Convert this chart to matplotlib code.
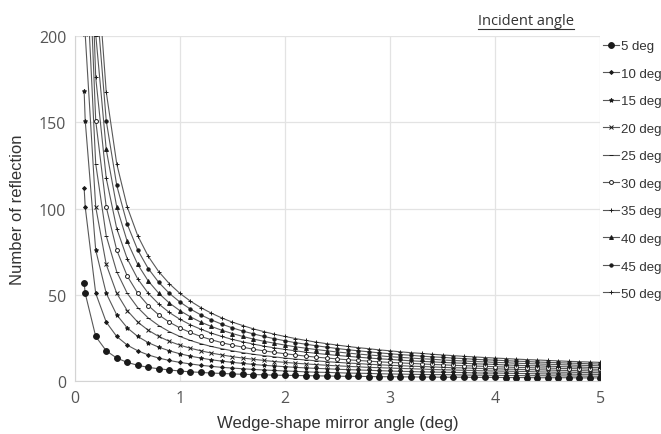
import matplotlib
matplotlib.use("Agg")
import matplotlib.pyplot as plt
from matplotlib.lines import Line2D

# wedge-shape mirror angle (deg)
wedge = [0.09, 0.1, 0.2, 0.3, 0.4, 0.5, 0.6, 0.7, 0.8, 0.9,
         1.0, 1.1, 1.2, 1.3, 1.4, 1.5, 1.6, 1.7, 1.8, 1.9,
         2.0, 2.1, 2.2, 2.3, 2.4, 2.5, 2.6, 2.7, 2.8, 2.9,
         3.0, 3.1, 3.2, 3.3, 3.4, 3.5, 3.6, 3.7, 3.8, 3.9,
         4.0, 4.1, 4.2, 4.3, 4.4, 4.5, 4.6, 4.7, 4.8, 4.9, 5.0]

# number of reflection for each incident angle
n_5 = [57, 51, 26, 17.7, 13.5, 11, 9.3, 8.1, 7.3, 6.6,
       6, 5.5, 5.2, 4.8, 4.6, 4.3, 4.1, 3.9, 3.8, 3.6,
       3.5, 3.4, 3.3, 3.2, 3.1, 3.0, 2.9, 2.9, 2.8, 2.7,
       2.7, 2.6, 2.6, 2.5, 2.5, 2.4, 2.4, 2.4, 2.3, 2.3,
       2.3, 2.2, 2.2, 2.2, 2.1, 2.1, 2.1, 2.1, 2.0, 2.0, 2.0]
n_10 = [112, 101, 51, 34.3, 26, 21, 17.7, 15.3, 13.5, 12.1,
        11, 10.1, 9.3, 8.7, 8.1, 7.7, 7.3, 6.9, 6.6, 6.3,
        6, 5.8, 5.5, 5.3, 5.2, 5, 4.8, 4.7, 4.6, 4.4,
        4.3, 4.2, 4.1, 4.0, 3.9, 3.9, 3.8, 3.7, 3.6, 3.6,
        3.5, 3.4, 3.4, 3.3, 3.3, 3.2, 3.2, 3.1, 3.1, 3.0, 3.0]
n_15 = [168, 151, 76, 51, 38.5, 31, 26, 22.4, 19.8, 17.7,
        16, 14.6, 13.5, 12.5, 11.7, 11, 10.4, 9.8, 9.3, 8.9,
        8.5, 8.1, 7.8, 7.5, 7.3, 7, 6.8, 6.6, 6.4, 6.2,
        6, 5.8, 5.7, 5.5, 5.4, 5.3, 5.2, 5.1, 4.9, 4.8,
        4.8, 4.7, 4.6, 4.5, 4.4, 4.3, 4.3, 4.2, 4.1, 4.1, 4.0]
n_20 = [223, 201, 101, 67.7, 51, 41, 34.3, 29.6, 26, 23.2,
        21, 19.2, 17.7, 16.4, 15.3, 14.3, 13.5, 12.8, 12.1, 11.5,
        11, 10.5, 10.1, 9.7, 9.3, 9, 8.7, 8.4, 8.1, 7.9,
        7.7, 7.5, 7.3, 7.1, 6.9, 6.7, 6.6, 6.4, 6.3, 6.1,
        6, 5.9, 5.8, 5.7, 5.5, 5.4, 5.3, 5.3, 5.2, 5.1, 5]
n_25 = [279, 251, 126, 84.3, 63.5, 51, 42.7, 36.7, 32.3, 28.8,
        26, 23.7, 21.8, 20.2, 18.9, 17.7, 16.6, 15.7, 14.9, 14.2,
        13.5, 12.9, 12.4, 11.9, 11.4, 11, 10.6, 10.3, 9.9, 9.6,
        9.3, 9.1, 8.8, 8.6, 8.4, 8.1, 7.9, 7.8, 7.6, 7.4,
        7.3, 7.1, 7.0, 6.8, 6.7, 6.6, 6.4, 6.3, 6.2, 6.1, 6]
n_30 = [334, 301, 151, 101, 76, 61, 51, 43.9, 38.5, 34.3,
        31, 28.3, 26, 24.1, 22.4, 21, 19.8, 18.6, 17.7, 16.8,
        16, 15.3, 14.6, 14.0, 13.5, 13, 12.5, 12.1, 11.7, 11.3,
        11, 10.7, 10.4, 10.1, 9.8, 9.6, 9.3, 9.1, 8.9, 8.7,
        8.5, 8.3, 8.1, 8.0, 7.8, 7.7, 7.5, 7.4, 7.3, 7.1, 7]
n_35 = [390, 351, 176, 117.7, 88.5, 71, 59.3, 51, 44.8, 39.9,
        36, 32.8, 30.2, 27.9, 26, 24.3, 22.9, 21.6, 20.4, 19.4,
        18.5, 17.7, 16.9, 16.2, 15.6, 15, 14.5, 14.0, 13.5, 13.1,
        12.7, 12.3, 11.9, 11.6, 11.3, 11, 10.7, 10.5, 10.2, 10.0,
        9.8, 9.5, 9.3, 9.1, 9.0, 8.8, 8.6, 8.4, 8.3, 8.1, 8]
n_40 = [445, 401, 201, 134.3, 101, 81, 67.7, 58.1, 51, 45.4,
        41, 37.4, 34.3, 31.8, 29.6, 27.7, 26, 24.5, 23.2, 22.1,
        21, 20.0, 19.2, 18.4, 17.7, 17, 16.4, 15.8, 15.3, 14.8,
        14.3, 13.9, 13.5, 13.1, 12.8, 12.4, 12.1, 11.8, 11.5, 11.3,
        11, 10.8, 10.5, 10.3, 10.1, 9.9, 9.7, 9.5, 9.3, 9.2, 9]
n_45 = [501, 451, 226, 151, 113.5, 91, 76, 65.3, 57.3, 51,
        46, 41.9, 38.5, 35.6, 33.1, 31, 29.1, 27.5, 26, 24.7,
        23.5, 22.4, 21.5, 20.6, 19.8, 19, 18.3, 17.7, 17.1, 16.5,
        16, 15.5, 15.1, 14.6, 14.2, 13.9, 13.5, 13.2, 12.8, 12.5,
        12.3, 12.0, 11.7, 11.5, 11.2, 11, 10.8, 10.6, 10.4, 10.2, 10]
n_50 = [557, 501, 251, 167.7, 126, 101, 84.3, 72.4, 63.5, 56.6,
        51, 46.5, 42.7, 39.5, 36.7, 34.3, 32.3, 30.4, 28.8, 27.3,
        26, 24.8, 23.7, 22.7, 21.8, 21, 20.2, 19.5, 18.9, 18.2,
        17.7, 17.1, 16.6, 16.2, 15.7, 15.3, 14.9, 14.5, 14.2, 13.8,
        13.5, 13.2, 12.9, 12.6, 12.4, 12.1, 11.9, 11.6, 11.4, 11.2, 11]

series = [n_5, n_10, n_15, n_20, n_25, n_30, n_35, n_40, n_45, n_50]
labels = ['5 deg', '10 deg', '15 deg', '20 deg', '25 deg',
          '30 deg', '35 deg', '40 deg', '45 deg', '50 deg']

# marker style per series (marker, size, filled)
styles = [('o', 4.2, True), ('D', 2.0, True), ('*', 3.2, True), ('x', 2.6, False),
          ('_', 3.5, False), ('o', 2.8, False), ('+', 3.5, False), ('^', 2.8, True),
          ('o', 2.4, True), ('+', 3.0, False)]

fig = plt.figure(figsize=(6.61, 4.35), dpi=100)
ax = fig.add_axes([0.113, 0.121, 0.795, 0.794])

for vals, lab, (mk, ms, filled) in zip(series, labels, styles):
    ax.plot(wedge, vals, color='#585858', lw=0.8, marker=mk, ms=ms,
            mec='#1a1a1a', mfc='#1a1a1a' if filled else 'white', mew=0.7,
            label=lab)

ax.set_xlim(0, 5)
ax.set_ylim(0, 200)
ax.set_xticks([0, 1, 2, 3, 4, 5])
ax.set_yticks([0, 50, 100, 150, 200])
ax.grid(True, color='#e3e3e3', lw=0.9)
ax.set_axisbelow(True)
for s in ['top', 'right']:
    ax.spines[s].set_visible(False)
for s in ['left', 'bottom']:
    ax.spines[s].set_color('#d4d4d4')
ax.tick_params(length=0, labelsize=11.5, colors='#555555', pad=6)
for t in ax.get_xticklabels() + ax.get_yticklabels():
    t.set_fontfamily('Open Sans')

ax.set_xlabel('Wedge-shape mirror angle (deg)', fontsize=12, family='Liberation Sans',
              color='#333333', labelpad=7)
ax.set_ylabel('Number of reflection', fontsize=12, family='Liberation Sans',
              color='#333333', labelpad=10)

leg = fig.legend(loc='upper left', bbox_to_anchor=(0.905, 0.918), frameon=False,
                 prop={'family': 'Liberation Sans', 'size': 9.5}, labelcolor='#333333',
                 handlelength=1.15, handletextpad=0.2, labelspacing=1.16,
                 borderaxespad=0)

title = fig.text(0.796, 0.943, 'Incident angle', fontsize=10.5, family='Open Sans',
                 color='#333333', ha='center', va='baseline')
fig.canvas.draw()
bb = title.get_window_extent().transformed(fig.transFigure.inverted())
fig.add_artist(Line2D([bb.x0, bb.x1], [bb.y0 - 0.003, bb.y0 - 0.003],
                      transform=fig.transFigure, color='#333333', lw=0.8))

fig.savefig('out.png', dpi=100)
